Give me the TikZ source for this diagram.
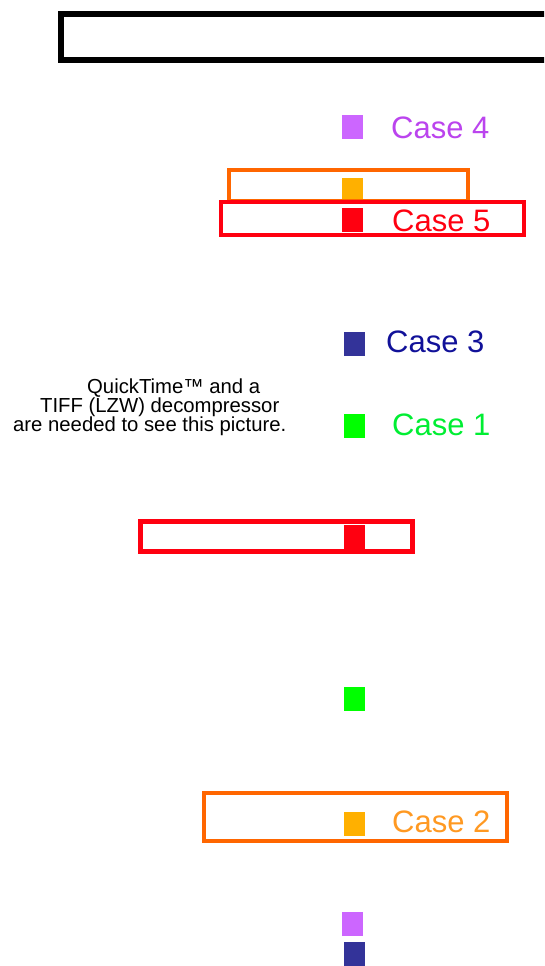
\documentclass[tikz,border=0pt]{standalone}
\usepackage{fontspec}
\setmainfont{Liberation Sans}
\definecolor{cpurple}{HTML}{CC66FF}
\definecolor{tpurple}{HTML}{BB44EE}
\definecolor{borange}{HTML}{FF6600}
\definecolor{sorange}{HTML}{FFB000}
\definecolor{torange}{HTML}{FF9922}
\definecolor{cred}{HTML}{FF0010}
\definecolor{cblue}{HTML}{333399}
\definecolor{tblue}{HTML}{111199}
\definecolor{cgreen}{HTML}{00FF00}
\definecolor{tgreen}{HTML}{00EE33}
\begin{document}
\begin{tikzpicture}[x=1pt,y=-1pt,
  sq/.style={draw=none,minimum width=21pt,minimum height=23.5pt,inner sep=0pt,anchor=north west},
  lbl/.style={anchor=base west,inner sep=0pt,font=\fontsize{31}{36}\selectfont},
  qt/.style={anchor=base west,inner sep=0pt,font=\fontsize{20.3}{22}\selectfont},
  frame/.style={line width=4.5pt}]
\useasboundingbox (0,0) rectangle (544,966);
\clip (0,0) rectangle (544,966);
\fill[white] (0,0) rectangle (544,966);
% top black box
\draw[line width=5.5pt] (61,14) rectangle (560,60);
% Case 4
\node[sq,fill=cpurple] (s4) at (342,115) {};
\node[lbl,text=tpurple] (t4) at (391,138) {Case 4};
% orange box with square
\node[sq,fill=sorange] (s2a) at (342,178) {};
\draw[frame,borange] (229,170) rectangle (468,201);
% red box Case 5
\node[sq,fill=cred] (s5) at (342,208) {};
\draw[frame,cred] (221,202) rectangle (524,235);
\node[lbl,text=cred] (t5) at (392,231) {Case 5};
% Case 3
\node[sq,fill=cblue] (s3) at (344,332) {};
\node[lbl,text=tblue] (t3) at (386,352) {Case 3};
% Case 1
\node[sq,fill=cgreen] (s1) at (344,414) {};
\node[lbl,text=tgreen] (t1) at (392,435) {Case 1};
% QuickTime placeholder text
\node[qt] (q1) at (87,393) {QuickTime™ and a};
\node[qt] (q2) at (40,412) {TIFF (LZW) decompressor};
\node[qt] (q3) at (13,431) {are needed to see this picture.};
% lower red box
\draw[frame,cred] (140.5,521.5) rectangle (412.5,551.5);
\node[sq,fill=cred] (s5b) at (344,525) {};
% lower green square
\node[sq,fill=cgreen] (s1b) at (344,687) {};
% orange box Case 2
\draw[frame,borange] (204,793) rectangle (507,841);
\node[sq,fill=sorange] (s2) at (344,812) {};
\node[lbl,text=torange] (t2) at (392,832) {Case 2};
% bottom squares
\node[sq,fill=cpurple] (s4b) at (342,912) {};
\node[sq,fill=cblue] (s3b) at (344,942) {};
\end{tikzpicture}
\end{document}
